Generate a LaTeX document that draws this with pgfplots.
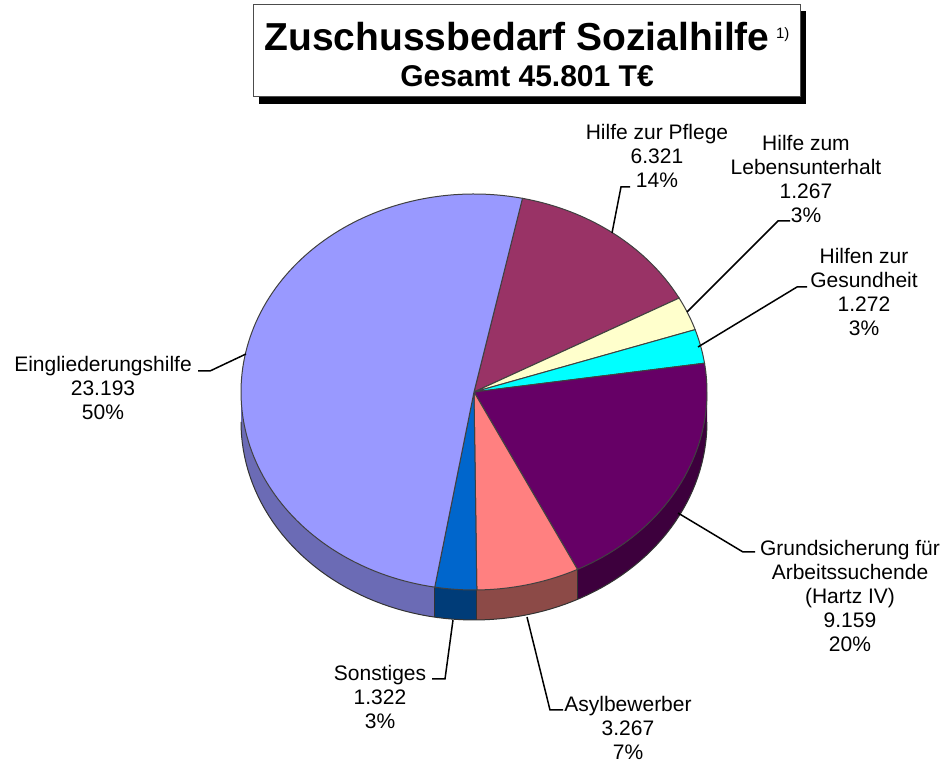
\documentclass[border=0pt]{standalone}
\usepackage{pgfplots}
\pgfplotsset{compat=1.18}
\usepgfplotslibrary{fillbetween}
\usepackage{fontspec}
\setmainfont{Liberation Sans}
\definecolor{cEin}{HTML}{9999FF}
\definecolor{cEinS}{HTML}{6B6BB5}
\definecolor{cPfl}{HTML}{993366}
\definecolor{cLU}{HTML}{FFFFCC}
\definecolor{cGes}{HTML}{00FFFF}
\definecolor{cGru}{HTML}{660066}
\definecolor{cGruS}{HTML}{3D003D}
\definecolor{cAsy}{HTML}{FF8080}
\definecolor{cAsyS}{HTML}{8C4A47}
\definecolor{cSon}{HTML}{0066CC}
\definecolor{cSonS}{HTML}{003C78}
% values (T EUR)
\def\vPfl{6321}\def\vLU{1267}\def\vGes{1272}\def\vGru{9159}
\def\vAsy{3267}\def\vSon{1322}\def\vEin{23193}
\def\vTot{45801}
\edef\aA{78}
\edef\aB{\fpeval{round(\aA-\vPfl/\vTot*360,3)}}
\edef\aC{\fpeval{round(\aB-\vLU/\vTot*360,3)}}
\edef\aD{\fpeval{round(\aC-\vGes/\vTot*360,3)}}
\edef\aE{\fpeval{round(\aD-\vGru/\vTot*360,3)}}
\edef\aF{\fpeval{round(\aE-\vAsy/\vTot*360,3)}}
\edef\aG{\fpeval{round(\aF-\vSon/\vTot*360,3)}}
\edef\aH{\fpeval{round(\aG-\vEin/\vTot*360,3)}}
\begin{document}
\begin{tikzpicture}[lbl/.style={font=\fontsize{10.5}{12}\selectfont, align=center, inner sep=0pt}]
\begin{axis}[hide axis, scale only axis, width=471.5pt, height=381.5pt,
  xmin=0, xmax=943, ymin=0, ymax=763, y dir=reverse, clip=false, samples=90]
% ---- sides ----
\addplot[draw=none, name path=eT, domain=-180:\aG] ({474+233*cos(x)},{392-198*sin(x)});
\addplot[draw=none, name path=eB, domain=-180:\aG] ({474+233*cos(x)},{422-198*sin(x)});
\addplot[fill=cEinS, draw=none] fill between[of=eT and eB];
\addplot[draw=none, name path=sT, domain=\aG:\aF, samples=20] ({474+233*cos(x)},{392-198*sin(x)});
\addplot[draw=none, name path=sB, domain=\aG:\aF, samples=20] ({474+233*cos(x)},{422-198*sin(x)});
\addplot[fill=cSonS, draw=none] fill between[of=sT and sB];
\addplot[draw=none, name path=aT, domain=\aF:\aE, samples=30] ({474+233*cos(x)},{392-198*sin(x)});
\addplot[draw=none, name path=aB, domain=\aF:\aE, samples=30] ({474+233*cos(x)},{422-198*sin(x)});
\addplot[fill=cAsyS, draw=none] fill between[of=aT and aB];
\addplot[draw=none, name path=gT, domain=\aE:0, samples=60] ({474+233*cos(x)},{392-198*sin(x)});
\addplot[draw=none, name path=gB, domain=\aE:0, samples=60] ({474+233*cos(x)},{422-198*sin(x)});
\addplot[fill=cGruS, draw=none] fill between[of=gT and gB];
\addplot[black!80, line width=0.5pt, domain=-180:0] ({474+233*cos(x)},{422-198*sin(x)});
\addplot[black!80, line width=0.5pt, domain=0:30, samples=2] ({474+233*cos(\aG)},{392-198*sin(\aG)+x});
\addplot[black!80, line width=0.5pt, domain=0:30, samples=2] ({474+233*cos(\aF)},{392-198*sin(\aF)+x});
\addplot[black!80, line width=0.5pt, domain=0:30, samples=2] ({474+233*cos(\aE)},{392-198*sin(\aE)+x});
% ---- tops ----
\addplot[fill=cPfl, draw=black!75, line width=0.5pt, domain=\aB:\aA, samples=40] ({474+233*cos(x)},{392-198*sin(x)}) -- (axis cs:474,392) -- cycle;
\addplot[fill=cLU, draw=black!75, line width=0.5pt, domain=\aC:\aB, samples=15] ({474+233*cos(x)},{392-198*sin(x)}) -- (axis cs:474,392) -- cycle;
\addplot[fill=cGes, draw=black!75, line width=0.5pt, domain=\aD:\aC, samples=15] ({474+233*cos(x)},{392-198*sin(x)}) -- (axis cs:474,392) -- cycle;
\addplot[fill=cGru, draw=black!75, line width=0.5pt, domain=\aE:\aD, samples=60] ({474+233*cos(x)},{392-198*sin(x)}) -- (axis cs:474,392) -- cycle;
\addplot[fill=cAsy, draw=black!75, line width=0.5pt, domain=\aF:\aE, samples=30] ({474+233*cos(x)},{392-198*sin(x)}) -- (axis cs:474,392) -- cycle;
\addplot[fill=cSon, draw=black!75, line width=0.5pt, domain=\aG:\aF, samples=15] ({474+233*cos(x)},{392-198*sin(x)}) -- (axis cs:474,392) -- cycle;
\addplot[fill=cEin, draw=black!75, line width=0.5pt, domain=\aH:\aG, samples=120] ({474+233*cos(x)},{392-198*sin(x)}) -- (axis cs:474,392) -- cycle;
% ---- leader lines ----
\addplot[black, line width=0.75pt] coordinates {(630,187) (621,187) (612,233)};
\addplot[black, line width=0.75pt] coordinates {(790,221) (778,221) (687,312)};
\addplot[black, line width=0.75pt] coordinates {(807,287) (797,287) (698,347)};
\addplot[black, line width=0.75pt] coordinates {(198,371) (210,371) (246,354)};
\addplot[black, line width=0.75pt] coordinates {(755,552) (743,552) (678,513)};
\addplot[black, line width=0.75pt] coordinates {(432,679) (445,679) (453,620)};
\addplot[black, line width=0.75pt] coordinates {(527,617) (550,710) (563,710)};
% ---- labels ----
\node[lbl] at (axis cs:657,156) {Hilfe zur Pflege\\6.321\\14\%};
\node[lbl] at (axis cs:806,179) {Hilfe zum\\Lebensunterhalt\\1.267\\3\%};
\node[lbl] at (axis cs:864,292) {Hilfen zur\\Gesundheit\\1.272\\3\%};
\node[lbl] at (axis cs:103,388) {Eingliederungshilfe\\23.193\\50\%};
\node[lbl] at (axis cs:850,596) {Grundsicherung für\\Arbeitssuchende\\(Hartz IV)\\9.159\\20\%};
\node[lbl] at (axis cs:380,697) {Sonstiges\\1.322\\3\%};
\node[lbl] at (axis cs:628,728) {Asylbewerber\\3.267\\7\%};
% ---- title box ----
\fill[black] (axis cs:259,11) rectangle (axis cs:806,104);
\draw[black!70, line width=0.5pt, fill=white] (axis cs:253,5) rectangle (axis cs:800,97);
\node[inner sep=0pt, font=\bfseries\fontsize{19.5}{23}\selectfont] at (axis cs:527,37) {Zuschussbedarf Sozialhilfe\,\raisebox{0.6ex}{\mdseries\fontsize{7.5}{9}\selectfont 1)}};
\node[inner sep=0pt, font=\bfseries\fontsize{15}{18}\selectfont] at (axis cs:527,76) {Gesamt 45.801 T€};
\end{axis}
\pgfresetboundingbox
\useasboundingbox (current axis.south west) rectangle (current axis.north east);
\end{tikzpicture}
\end{document}
